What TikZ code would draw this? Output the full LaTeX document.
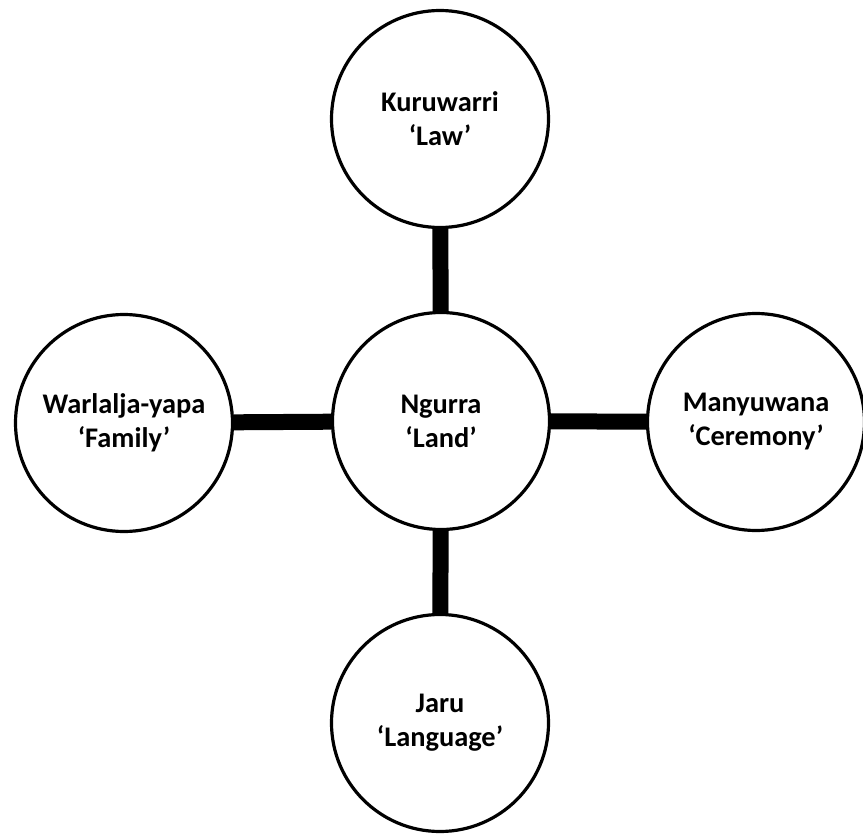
\documentclass[tikz,border=0pt]{standalone}
\usepackage{fontspec}
\setmainfont{Carlito}
\tikzset{
    concept/.style={draw, circle, line width=1.6pt, minimum size=108.5pt, inner sep=0pt,
        align=center, fill=white, font=\bfseries\fontsize{14.2}{17}\selectfont,
        execute at begin node={\rule{0pt}{17pt}}},
    link/.style={line width=8pt}
}

\begin{document}
\begin{tikzpicture}[x=0.5pt, y=-0.5pt]
    \useasboundingbox (0,0) rectangle (863,835);
    \node[concept] (land) at (441,421) {Ngurra\\‘Land’};
    \node[concept] (law) at (440,119) {Kuruwarri\\‘Law’};
    \node[concept] (family) at (124,423) {Warlalja-yapa\\‘Family’};
    \node[concept] (ceremony) at (756,422) {Manyuwana\\‘Ceremony’};
    \node[concept] (language) at (440,723) {Jaru\\‘Language’};
    % spokes from the centre
    \draw[link] (land) -- (law);
    \draw[link] (land) -- (family);
    \draw[link] (land) -- (ceremony);
    \draw[link] (land) -- (language);
\end{tikzpicture}
\end{document}
